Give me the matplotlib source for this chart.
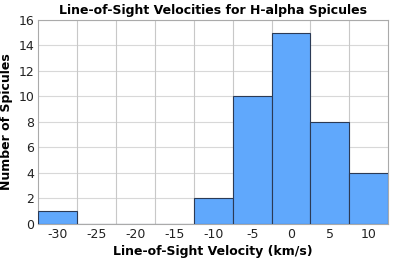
import matplotlib.pyplot as plt
import numpy as np

# bin centers (km/s) and counts
centers = [-30, -25, -20, -15, -10, -5, 0, 5, 10]
counts = [1, 0, 0, 0, 2, 10, 15, 8, 4]
tick_labels = ['-30', '-25', '-20', '-15', '-10', '-5', '0', '5', '10']

fig = plt.figure(figsize=(3.99, 2.62), dpi=100)
ax = fig.add_axes([0.096, 0.145, 0.877, 0.779])

width = 5
ax.bar(centers, counts, width=width, color='#60a8fc', edgecolor='#2b3a55',
       linewidth=0.8, zorder=3)

ax.set_xlim(-32.5, 12.5)
ax.set_ylim(0, 16)
ax.set_xticks(centers)
ax.set_xticklabels(tick_labels)
ax.set_yticks(range(0, 17, 2))

# grid: vertical lines at bin edges, horizontal at y ticks
edges = np.arange(-27.5, 12.5, 5)
for e in edges:
    ax.axvline(e, color='#c8c8c8', linewidth=0.8, zorder=1)
ax.yaxis.grid(True, color='#d8d8d8', linewidth=0.8, zorder=1)
ax.set_axisbelow(True)

ax.tick_params(axis='both', length=0, labelsize=9, pad=3, colors='#222222')
for s in ax.spines.values():
    s.set_color('#aaaaaa')
    s.set_linewidth(0.8)

ax.set_title('Line-of-Sight Velocities for H-alpha Spicules', fontsize=9,
             fontweight='bold', pad=4)
ax.set_xlabel('Line-of-Sight Velocity (km/s)', fontsize=9, fontweight='bold',
              labelpad=3)
ax.set_ylabel('Number of Spicules', fontsize=9, fontweight='bold', labelpad=4)

fig.savefig('out.png', dpi=100)
